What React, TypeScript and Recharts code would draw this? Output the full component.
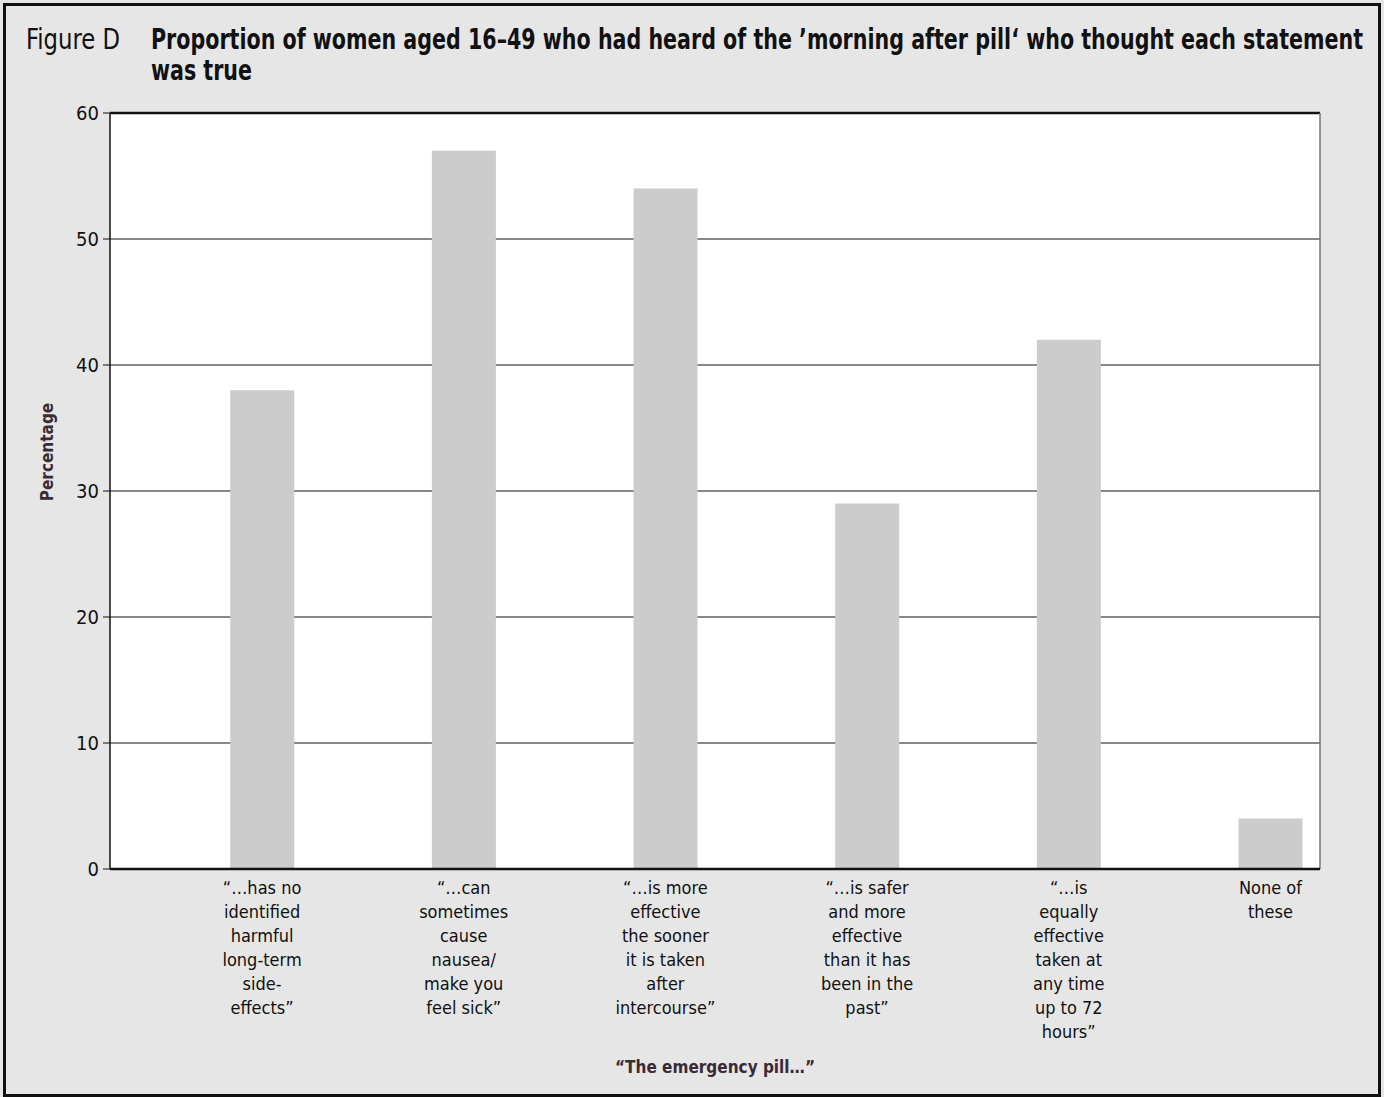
import { BarChart, Bar, XAxis, YAxis, CartesianGrid, ReferenceLine } from 'recharts';

const categories = [
  '“…has no\nidentified\nharmful\nlong-term\nside-\neffects”',
  '“…can\nsometimes\ncause\nnausea/\nmake you\nfeel sick”',
  '“…is more\neffective\nthe sooner\nit is taken\nafter\nintercourse”',
  '“…is safer\nand more\neffective\nthan it has\nbeen in the\npast”',
  '“…is\nequally\neffective\ntaken at\nany time\nup to 72\nhours”',
  'None of\nthese',
];
const percentages = [38, 57, 54, 29, 42, 4];
const yTicks = [0, 10, 20, 30, 40, 50, 60];

const data = categories.map((label, i) => ({ pos: i, label, value: percentages[i] }));

const FONT = "'Liberation Sans Narrow', 'DejaVu Sans Condensed', 'Arial Narrow', sans-serif";
const DARK = '#3a2a35';

const CategoryTick = (props: any) => {
  const { x, y, payload } = props;
  const lines = categories[payload.value].split('\n');
  return (
    <text x={x} y={y} textAnchor="middle" fontFamily={FONT} fontSize={18} fill="#111">
      {lines.map((line, i) => (
        <tspan key={i} x={x} dy={i === 0 ? 17 : 24}>
          {line}
        </tspan>
      ))}
    </text>
  );
};

export default function App() {
  return (
    <div
      style={{
        position: 'absolute',
        left: 0,
        top: 0,
        width: 1384,
        height: 1097,
        background: '#e6e6e6',
        fontFamily: FONT,
      }}
    >
      <div
        style={{
          position: 'absolute',
          left: 3,
          top: 3,
          width: 1372,
          height: 1088,
          border: '3px solid #111',
        }}
      />
      <svg
        width={1384}
        height={100}
        style={{ position: 'absolute', left: 0, top: 0 }}
        fontFamily={FONT}
      >
        <text x={26} y={49} fontSize={28} fill="#111" textLength={94} lengthAdjust="spacingAndGlyphs">
          Figure D
        </text>
        <text
          x={151}
          y={49}
          fontSize={28}
          fontWeight={700}
          fill="#111"
          textLength={1212}
          lengthAdjust="spacingAndGlyphs"
        >
          Proportion of women aged 16–49 who had heard of the ’morning after pill‘ who thought each statement
        </text>
        <text
          x={151}
          y={80}
          fontSize={28}
          fontWeight={700}
          fill="#111"
          textLength={101}
          lengthAdjust="spacingAndGlyphs"
        >
          was true
        </text>
      </svg>
      <div
        style={{
          position: 'absolute',
          left: 47,
          top: 452,
          transform: 'translate(-50%, -50%) rotate(-90deg)',
          fontSize: 17,
          fontWeight: 700,
          color: DARK,
          whiteSpace: 'nowrap',
        }}
      >
        Percentage
      </div>
      <div
        style={{
          position: 'absolute',
          left: 715,
          top: 1067,
          transform: 'translate(-50%, -50%)',
          fontSize: 17,
          fontWeight: 700,
          color: DARK,
          whiteSpace: 'nowrap',
        }}
      >
        “The emergency pill…”
      </div>
      <div style={{ position: 'absolute', left: 0, top: 0 }}>
        <BarChart
          width={1384}
          height={1097}
          data={data}
          margin={{ top: 113, right: 64, bottom: 48, left: 50 }}
        >
          <CartesianGrid vertical={false} stroke="#111" strokeWidth={1} fill="#ffffff" />
          <XAxis
            type="number"
            dataKey="pos"
            domain={[-0.754, 5.246]}
            ticks={[0, 1, 2, 3, 4, 5]}
            tick={<CategoryTick />}
            tickLine={false}
            axisLine={{ stroke: '#111', strokeWidth: 2.5 }}
            height={180}
            interval={0}
            allowDataOverflow
          />
          <YAxis
            domain={[0, 60]}
            ticks={yTicks}
            width={60}
            tickSize={7}
            tickMargin={4}
            tickLine={{ stroke: '#111' }}
            axisLine={{ stroke: '#111', strokeWidth: 1.5 }}
            tick={{ fontFamily: FONT, fontSize: 20, fill: '#111' }}
          />
          <ReferenceLine y={60} stroke="#111" strokeWidth={2.5} />
          <ReferenceLine x={5.246} stroke="#777" strokeWidth={1.5} />
          <Bar dataKey="value" fill="#cccccc" barSize={64} isAnimationActive={false} />
        </BarChart>
      </div>
    </div>
  );
}
